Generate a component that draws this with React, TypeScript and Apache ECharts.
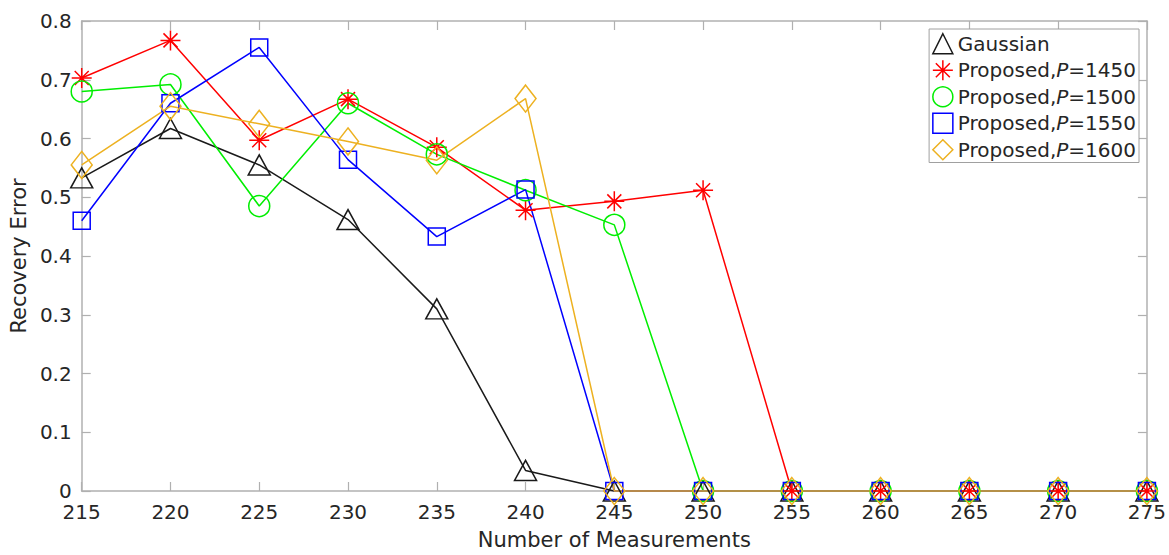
import React, { useEffect, useRef } from "react";
import * as echarts from "echarts";

const xValues = [215, 220, 225, 230, 235, 240, 245, 250, 255, 260, 265, 270, 275];
const gaussian = [0.533, 0.617, 0.555, 0.462, 0.31, 0.035, 0, 0, 0, 0, 0, 0, 0];
const p1450 = [0.703, 0.767, 0.597, 0.667, 0.585, 0.478, 0.493, 0.512, 0, 0, 0, 0, 0];
const p1500 = [0.68, 0.692, 0.485, 0.66, 0.573, 0.512, 0.453, 0, 0, 0, 0, 0, 0];
const p1550 = [0.46, 0.66, 0.755, 0.564, 0.433, 0.513, 0, 0, 0, 0, 0, 0, 0];
const p1600 = [0.555, 0.655, 0.625, 0.595, 0.563, 0.668, 0, 0, 0, 0, 0, 0, 0];

const seriesNames = [
  "Gaussian",
  "Proposed,P=1450",
  "Proposed,P=1500",
  "Proposed,P=1550",
  "Proposed,P=1600",
];
const seriesColors = ["#1a1a1a", "#ff0000", "#00ee00", "#0000ff", "#edb120"];
const seriesValues = [gaussian, p1450, p1500, p1550, p1600];

const STAR = "path://M10,0L10,20M0,10L20,10M3,3L17,17M3,17L17,3";
const seriesSymbols = ["triangle", STAR, "circle", "rect", "diamond"];
const seriesSymbolSizes: any[] = [[22, 20], 20, 21, 17, [21, 27]];

const FONT = "DejaVu Sans";
const TEXT = "#262626";
const AXIS = "#b0b0b0";

export default function App() {
  const ref = useRef<HTMLDivElement>(null);
  useEffect(() => {
    if (!ref.current) return;
    const chart = echarts.init(ref.current, undefined, { renderer: "svg" });
    const axisCommon = {
      axisLine: { show: true, onZero: false, lineStyle: { color: AXIS, width: 1.5 } },
      axisTick: { show: true, inside: true, length: 9, lineStyle: { color: AXIS, width: 1.2 } },
      splitLine: { show: false },
    };
    chart.setOption({
      animation: false,
      backgroundColor: "#ffffff",
      grid: { left: 75, right: 22, top: 21, bottom: 60, containLabel: false },
      xAxis: [
        {
          type: "value",
          min: 215,
          max: 275,
          interval: 5,
          name: "Number of Measurements",
          nameLocation: "middle",
          nameGap: 38,
          nameTextStyle: { fontFamily: FONT, fontSize: 21, color: TEXT },
          axisLabel: { fontFamily: FONT, fontSize: 20, lineHeight: 20, color: TEXT, margin: 11 },
          ...axisCommon,
        },
        {
          type: "value",
          position: "top",
          min: 215,
          max: 275,
          interval: 5,
          axisLabel: { show: false },
          ...axisCommon,
        },
      ],
      yAxis: [
        {
          type: "value",
          min: 0,
          max: 0.8,
          interval: 0.1,
          name: "Recovery Error",
          nameLocation: "middle",
          nameGap: 46,
          nameTextStyle: { fontFamily: FONT, fontSize: 21, color: TEXT },
          axisLabel: {
            fontFamily: FONT,
            fontSize: 20,
            lineHeight: 20,
            color: TEXT,
            margin: 10,
            formatter: (v: number) => (v === 0 ? "0" : v.toFixed(1)),
          },
          ...axisCommon,
        },
        {
          type: "value",
          position: "right",
          min: 0,
          max: 0.8,
          interval: 0.1,
          axisLabel: { show: false },
          ...axisCommon,
        },
      ],
      legend: {
        orient: "vertical",
        right: 30,
        top: 29,
        backgroundColor: "#ffffff",
        borderColor: "#a0a0a0",
        borderWidth: 1,
        borderRadius: 0,
        padding: [4, 3, 2, 3],
        itemWidth: 20,
        itemHeight: 20,
        itemGap: 5,
        selectedMode: false,
        textStyle: {
          fontFamily: FONT,
          fontSize: 20,
          lineHeight: 20,
          color: TEXT,
          rich: {
            i: { fontFamily: FONT, fontSize: 20, lineHeight: 20, fontStyle: "italic", color: TEXT },
            n: { fontFamily: FONT, fontSize: 20, lineHeight: 20, color: TEXT },
          },
        },
        formatter: (name: string) => {
          const m = name.match(/^(Proposed,)P(=\d+)$/);
          if (m) return `{n|${m[1]}}{i|P}{n|${m[2]}}`;
          return `{n|${name}}`;
        },
        data: seriesNames.map((name, i) => ({
          name,
          icon: seriesSymbols[i],
          itemStyle: {
            color: "rgba(0,0,0,0)",
            borderColor: seriesColors[i],
            borderWidth: 1.5,
          },
        })),
      },
      series: seriesNames.map((name, i) => ({
        name,
        type: "line",
        xAxisIndex: 0,
        yAxisIndex: 0,
        clip: false,
        data: xValues.map((x, j) => [x, seriesValues[i][j]]),
        symbol: seriesSymbols[i],
        symbolSize: seriesSymbolSizes[i],
        showAllSymbol: true,
        lineStyle: { color: seriesColors[i], width: 1.5 },
        itemStyle: {
          color: "rgba(0,0,0,0)",
          borderColor: seriesColors[i],
          borderWidth: 1.5,
        },
        emphasis: { disabled: true },
      })),
    });
    return () => chart.dispose();
  }, []);
  return (
    <div
      ref={ref}
      style={{ position: "fixed", left: 0, top: 0, width: 1169, height: 555 }}
    />
  );
}
